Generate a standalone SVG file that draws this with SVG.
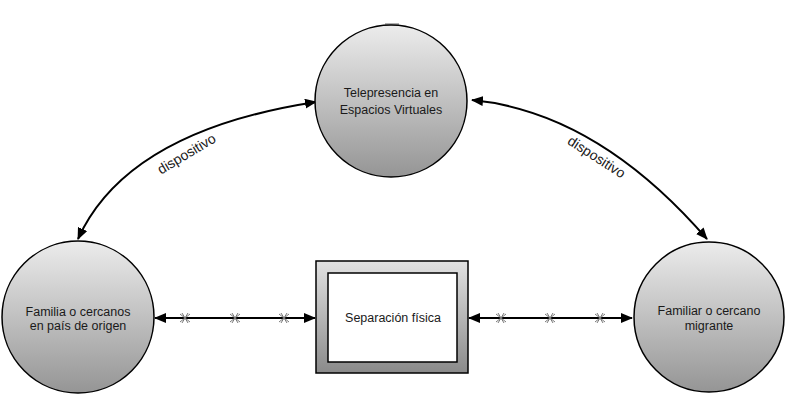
<svg xmlns="http://www.w3.org/2000/svg" width="785" height="418" viewBox="0 0 785 418">
<defs>
<linearGradient id="gCircle" x1="0" y1="0" x2="0" y2="1">
<stop offset="0" stop-color="#ececec"/>
<stop offset="1" stop-color="#959595"/>
</linearGradient>
<linearGradient id="gFrame" x1="0" y1="0" x2="0" y2="1">
<stop offset="0" stop-color="#e2e2e2"/>
<stop offset="1" stop-color="#8a8a8a"/>
</linearGradient>
<marker id="ah" viewBox="0 0 12 10" refX="11" refY="5" markerWidth="12" markerHeight="10" markerUnits="userSpaceOnUse" orient="auto-start-reverse">
<path d="M0,0 L12,5 L0,10 Z" fill="#000"/>
</marker>
</defs>
<style>
.node{fill:url(#gCircle);stroke:#000;stroke-width:1.5}
.lbl{font-family:"Liberation Sans",Arial,sans-serif;font-size:12.5px;fill:#1a1a1a;text-anchor:middle}
.edge{fill:none;stroke:#000;stroke-width:2}
.xm{fill:none;stroke:#7a7a7a;stroke-width:1}
.elbl{font-family:"Liberation Sans",Arial,sans-serif;font-size:14px;fill:#1a1a1a;text-anchor:middle}
</style>
<rect width="785" height="418" fill="#fff"/>

<g id="connectors">
<path class="edge" d="M78,239 Q127,131 316,102" marker-start="url(#ah)" marker-end="url(#ah)"/>
<path class="edge" d="M472,100 Q597,112 707,239" marker-start="url(#ah)" marker-end="url(#ah)"/>
<path class="edge" d="M155,318 L315,318" marker-start="url(#ah)" marker-end="url(#ah)"/>
<path class="edge" d="M469,318 L632,318" marker-start="url(#ah)" marker-end="url(#ah)"/>
<g id="xmarks">
<path class="xm" d="M180,314 L190,322 M180,322 L190,314 M182,313 L188,323 M182,323 L188,313"/>
<path class="xm" d="M230,314 L240,322 M230,322 L240,314 M232,313 L238,323 M232,323 L238,313"/>
<path class="xm" d="M279,314 L289,322 M279,322 L289,314 M281,313 L287,323 M281,323 L287,313"/>
<path class="xm" d="M496,314 L506,322 M496,322 L506,314 M498,313 L504,323 M498,323 L504,313"/>
<path class="xm" d="M545,314 L555,322 M545,322 L555,314 M547,313 L553,323 M547,323 L553,313"/>
<path class="xm" d="M595,314 L605,322 M595,322 L605,314 M597,313 L603,323 M597,323 L603,313"/>
</g>
<text class="elbl" transform="translate(189,158) rotate(-31)">dispositivo</text>
<text class="elbl" transform="translate(594,161) rotate(33)">dispositivo</text>
</g>

<g id="telepresencia">
<rect x="385" y="23" width="14" height="2" fill="#b0b0b0"/>
<circle class="node" cx="391" cy="101" r="76"/>
<text class="lbl" x="391" y="97">Telepresencia en</text>
<text class="lbl" x="391" y="114">Espacios Virtuales</text>
</g>

<g id="familia-origen">
<circle class="node" cx="78" cy="317" r="76"/>
<text class="lbl" x="78" y="316">Familia o cercanos</text>
<text class="lbl" x="78" y="330">en país de origen</text>
</g>

<g id="familiar-migrante">
<circle class="node" cx="709" cy="317" r="75"/>
<text class="lbl" x="709" y="315">Familiar o cercano</text>
<text class="lbl" x="709" y="330">migrante</text>
</g>

<g id="separacion">
<rect x="316" y="261" width="152" height="112" fill="url(#gFrame)" stroke="#000" stroke-width="1.5"/>
<rect x="328" y="273" width="129" height="89" fill="#fff" stroke="#000" stroke-width="1.5"/>
<text class="lbl" x="393" y="322">Separación física</text>
</g>
</svg>
